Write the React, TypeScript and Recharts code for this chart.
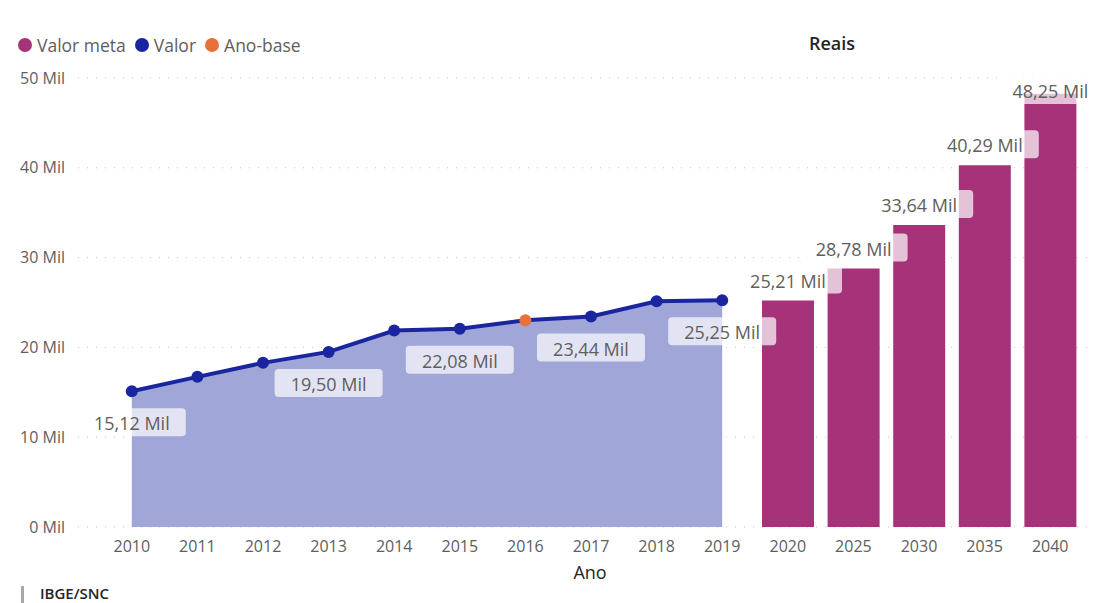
import { ComposedChart, Area, Bar, XAxis, YAxis, CartesianGrid } from 'recharts'

const anos = ['2010', '2011', '2012', '2013', '2014', '2015', '2016', '2017', '2018', '2019', '2020', '2025', '2030', '2035', '2040']
const valor = [15.12, 16.72, 18.28, 19.5, 21.88, 22.08, 23.03, 23.44, 25.14, 25.25, null, null, null, null, null]
const valorMeta = [null, null, null, null, null, null, null, null, null, null, 25.21, 28.78, 33.64, 40.29, 48.25]
const yTicks = [0, 10, 20, 30, 40, 50]
const anoBase = '2016'
const anosComRotulo = ['2010', '2013', '2015', '2017', '2019']

const corMeta = '#A6337A'
const corValor = '#1A26A0'
const corAnoBase = '#E8703A'
const corArea = '#A0A6D8'
const cinza = '#605E5C'
const PLOT_TOP = 78

const data = anos.map((ano, i) => ({ ano, valor: valor[i], meta: valorMeta[i] }))

const fmt = (v: number) => v.toFixed(2).replace('.', ',') + ' Mil'

const RotuloBox = ({ cx, cy, text }: { cx: number; cy: number; text: string }) => (
    <g>
        <rect x={cx - 54} y={cy - 15} width={108} height={28} rx={4} fill="#fff" fillOpacity={0.7} />
        <text x={cx} y={cy} textAnchor="middle" dominantBaseline="central" fontSize={18} fill={cinza} fontFamily="Open Sans">
            {text}
        </text>
    </g>
)

const renderValorLabel = (props: any) => {
    const { x, y, value, index } = props
    if (value == null || !anosComRotulo.includes(anos[index])) return null
    return <RotuloBox cx={x} cy={y + 32} text={fmt(value)} />
}

const renderMetaLabel = (props: any) => {
    const { x, y, width, value } = props
    if (value == null) return null
    const cy = Math.max(y - 20, PLOT_TOP + 13)
    return <RotuloBox cx={x + width / 2} cy={cy} text={fmt(value)} />
}

const renderDot = (props: any) => {
    const { cx, cy, index } = props
    if (cx == null || cy == null || valor[index] == null) return <g key={index} />
    return <circle key={index} cx={cx} cy={cy} r={6} fill={anos[index] === anoBase ? corAnoBase : corValor} />
}

const legenda = [
    { nome: 'Valor meta', cor: corMeta },
    { nome: 'Valor', cor: corValor },
    { nome: 'Ano-base', cor: corAnoBase },
]

export default function App() {
    return (
        <div style={{ position: 'absolute', left: 0, top: 0, width: 1094, height: 603, background: '#fff', fontFamily: 'Open Sans' }}>
            <div style={{ position: 'absolute', left: 18, top: 33, display: 'flex', alignItems: 'center', fontSize: 17.5, color: cinza }}>
                {legenda.map(l => (
                    <div key={l.nome} style={{ display: 'flex', alignItems: 'center', marginRight: 9 }}>
                        <div style={{ width: 14, height: 14, borderRadius: 7, background: l.cor, marginRight: 5 }} />
                        <span>{l.nome}</span>
                    </div>
                ))}
            </div>
            <div style={{ position: 'absolute', left: 782, width: 100, top: 31, textAlign: 'center', fontSize: 18, fontWeight: 600, color: '#252423' }}>
                Reais
            </div>
            <ComposedChart width={1094} height={603} data={data} margin={{ top: PLOT_TOP, right: 4, left: 8, bottom: 46 }}>
                <CartesianGrid vertical={false} stroke="#C8C6C4" strokeDasharray="1 8" />
                <XAxis
                    dataKey="ano"
                    height={30}
                    axisLine={false}
                    tickLine={false}
                    tickMargin={8}
                    padding={{ left: 21, right: 7 }}
                    tick={{ fontSize: 16, fill: cinza, fontFamily: 'Open Sans' }}
                    interval={0}
                />
                <YAxis
                    width={70}
                    domain={[0, 50]}
                    ticks={yTicks}
                    axisLine={false}
                    tickLine={false}
                    tickMargin={7}
                    tickFormatter={(v: number) => `${v} Mil`}
                    tick={{ fontSize: 16, fill: cinza, fontFamily: 'Open Sans' }}
                />
                <Bar dataKey="meta" fill={corMeta} barSize={52} isAnimationActive={false} label={renderMetaLabel} />
                <Area
                    type="linear"
                    dataKey="valor"
                    stroke={corValor}
                    strokeWidth={4}
                    fill={corArea}
                    fillOpacity={1}
                    dot={renderDot}
                    activeDot={false}
                    isAnimationActive={false}
                    label={renderValorLabel}
                />
            </ComposedChart>
            <div style={{ position: 'absolute', left: 540, width: 100, top: 560, lineHeight: '24px', textAlign: 'center', fontSize: 18, fontWeight: 500, color: '#252423' }}>
                Ano
            </div>
            <div style={{ position: 'absolute', left: 21, top: 586, width: 3, height: 17, background: '#A8A8A8' }} />
            <div style={{ position: 'absolute', left: 40, top: 585, lineHeight: '16px', fontSize: 15, fontWeight: 600, color: '#252423' }}>
                IBGE/SNC
            </div>
        </div>
    )
}
